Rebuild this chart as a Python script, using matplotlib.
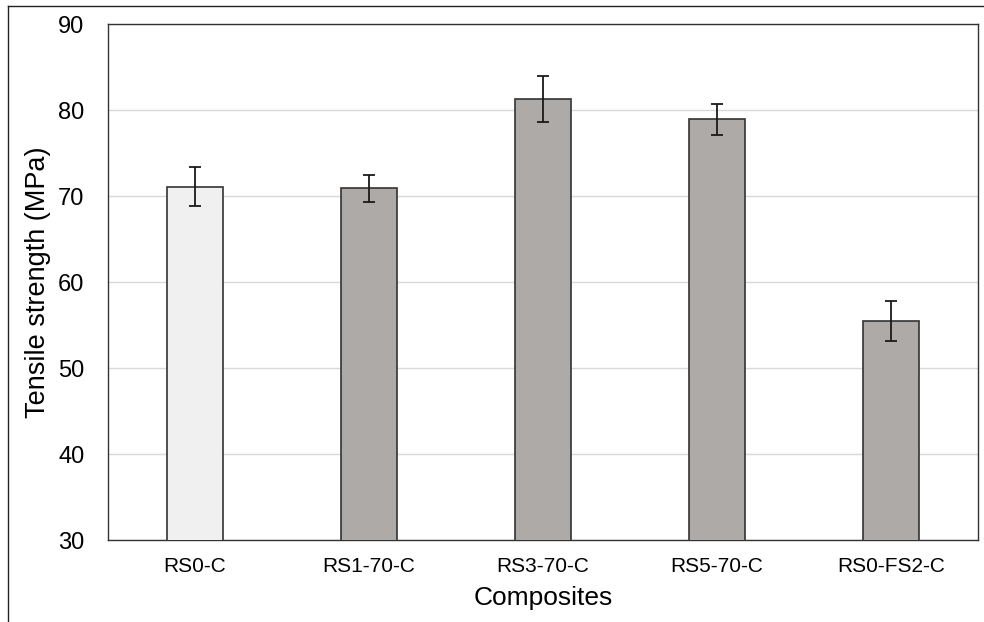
import matplotlib
matplotlib.use("Agg")
import matplotlib.pyplot as plt
from matplotlib.lines import Line2D
import numpy as np

plt.rcParams["font.family"] = ["Liberation Sans", "DejaVu Sans"]

categories = ["RS0-C", "RS1-70-C", "RS3-70-C", "RS5-70-C", "RS0-FS2-C"]
strength = [71.1, 70.9, 81.3, 78.9, 55.5]
errors = [2.3, 1.55, 2.7, 1.8, 2.35]
bar_colors = ["#f0f0f0", "#aeaaa8", "#aeaaa8", "#aeaaa8", "#aeaaa8"]
y_ticks = [30, 40, 50, 60, 70, 80, 90]

fig = plt.figure(figsize=(9.84, 6.22), dpi=100)
ax = fig.add_axes([0.1098, 0.1318, 0.8841, 0.8296])

x = np.arange(len(categories))
ax.bar(x, strength, width=0.32, color=bar_colors, edgecolor="#333333",
       linewidth=1.2, zorder=3)
ax.errorbar(x, strength, yerr=errors, fmt="none", ecolor="#1a1a1a",
            elinewidth=1.3, capsize=4, capthick=1.3, zorder=4)

ax.set_xlim(-0.5, len(categories) - 0.5)
ax.set_ylim(30, 90)
ax.set_yticks(y_ticks)
ax.set_xticks(x)
ax.set_xticklabels(categories, fontsize=15)
ax.tick_params(axis="y", labelsize=17, length=0, pad=17)
ax.tick_params(axis="x", length=0, pad=12)
ax.yaxis.grid(True, color="#d9d9d9", linewidth=1.0, zorder=0)
ax.set_axisbelow(True)
for spine in ax.spines.values():
    spine.set_color("#333333")
    spine.set_linewidth(1.0)

ax.set_xlabel("Composites", fontsize=19)
ax.set_ylabel("Tensile strength (MPa)", fontsize=19.5)
ax.xaxis.set_label_coords(0.5, -0.09)
ax.yaxis.set_label_coords(-0.066, 0.5)

# outer frame around the figure (left and top edges visible)
fig.add_artist(Line2D([8 / 984, 8 / 984], [0, 1 - 6 / 622],
                      transform=fig.transFigure, color="#222222", linewidth=1.0))
fig.add_artist(Line2D([8 / 984, 1], [1 - 6 / 622, 1 - 6 / 622],
                      transform=fig.transFigure, color="#222222", linewidth=1.0))

fig.savefig("out.png", dpi=100)
